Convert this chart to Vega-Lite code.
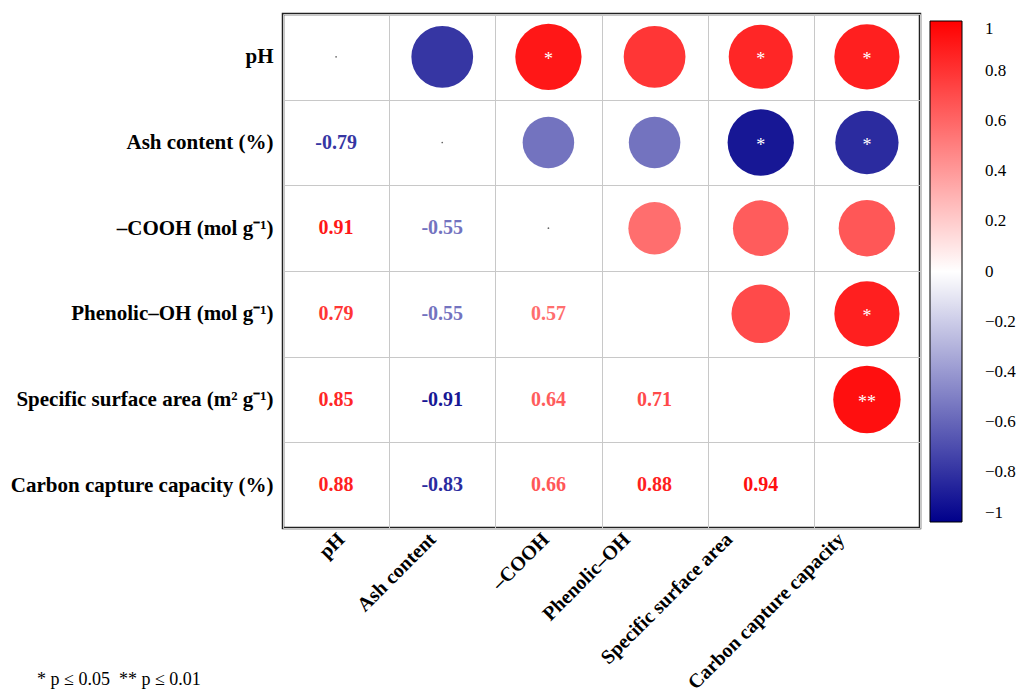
{
  "$schema": "https://vega.github.io/schema/vega-lite/v6.json",
  "autosize": "none",
  "padding": {"left": 283, "top": 14, "right": 100, "bottom": 164},
  "width": 637,
  "height": 514,
  "background": "white",
  "config": {
    "view": {"stroke": "#222222", "strokeWidth": 2.5},
    "font": "Liberation Serif"
  },
  "title": {
    "text": "* p ≤ 0.05  \u00a0** p ≤ 0.01",
    "orient": "bottom",
    "anchor": "start",
    "frame": "group",
    "font": "Liberation Serif",
    "fontSize": 18,
    "fontWeight": "normal",
    "color": "black",
    "dx": -246,
    "dy": -22,
    "offset": 0
  },
  "datasets": {
    "upper": [
      {"row": "pH", "col": "Ash content", "r": -0.79, "abs_r": 0.79, "sig": ""},
      {"row": "pH", "col": "–COOH", "r": 0.91, "abs_r": 0.91, "sig": "*"},
      {"row": "pH", "col": "Phenolic–OH", "r": 0.79, "abs_r": 0.79, "sig": ""},
      {"row": "pH", "col": "Specific surface area", "r": 0.85, "abs_r": 0.85, "sig": "*"},
      {"row": "pH", "col": "Carbon capture capacity", "r": 0.88, "abs_r": 0.88, "sig": "*"},
      {"row": "Ash content (%)", "col": "–COOH", "r": -0.55, "abs_r": 0.55, "sig": ""},
      {"row": "Ash content (%)", "col": "Phenolic–OH", "r": -0.55, "abs_r": 0.55, "sig": ""},
      {"row": "Ash content (%)", "col": "Specific surface area", "r": -0.91, "abs_r": 0.91, "sig": "*"},
      {"row": "Ash content (%)", "col": "Carbon capture capacity", "r": -0.83, "abs_r": 0.83, "sig": "*"},
      {"row": "–COOH (mol g⁻¹)", "col": "Phenolic–OH", "r": 0.57, "abs_r": 0.57, "sig": ""},
      {"row": "–COOH (mol g⁻¹)", "col": "Specific surface area", "r": 0.64, "abs_r": 0.64, "sig": ""},
      {"row": "–COOH (mol g⁻¹)", "col": "Carbon capture capacity", "r": 0.66, "abs_r": 0.66, "sig": ""},
      {"row": "Phenolic–OH (mol g⁻¹)", "col": "Specific surface area", "r": 0.71, "abs_r": 0.71, "sig": ""},
      {"row": "Phenolic–OH (mol g⁻¹)", "col": "Carbon capture capacity", "r": 0.88, "abs_r": 0.88, "sig": "*"},
      {"row": "Specific surface area (m² g⁻¹)", "col": "Carbon capture capacity", "r": 0.94, "abs_r": 0.94, "sig": "**"}
    ],
    "lower": [
      {"row": "Ash content (%)", "col": "pH", "r": -0.79, "label": "-0.79"},
      {"row": "–COOH (mol g⁻¹)", "col": "pH", "r": 0.91, "label": "0.91"},
      {"row": "Phenolic–OH (mol g⁻¹)", "col": "pH", "r": 0.79, "label": "0.79"},
      {"row": "Specific surface area (m² g⁻¹)", "col": "pH", "r": 0.85, "label": "0.85"},
      {"row": "Carbon capture capacity (%)", "col": "pH", "r": 0.88, "label": "0.88"},
      {"row": "–COOH (mol g⁻¹)", "col": "Ash content", "r": -0.55, "label": "-0.55"},
      {"row": "Phenolic–OH (mol g⁻¹)", "col": "Ash content", "r": -0.55, "label": "-0.55"},
      {"row": "Specific surface area (m² g⁻¹)", "col": "Ash content", "r": -0.91, "label": "-0.91"},
      {"row": "Carbon capture capacity (%)", "col": "Ash content", "r": -0.83, "label": "-0.83"},
      {"row": "Phenolic–OH (mol g⁻¹)", "col": "–COOH", "r": 0.57, "label": "0.57"},
      {"row": "Specific surface area (m² g⁻¹)", "col": "–COOH", "r": 0.64, "label": "0.64"},
      {"row": "Carbon capture capacity (%)", "col": "–COOH", "r": 0.66, "label": "0.66"},
      {"row": "Specific surface area (m² g⁻¹)", "col": "Phenolic–OH", "r": 0.71, "label": "0.71"},
      {"row": "Carbon capture capacity (%)", "col": "Phenolic–OH", "r": 0.88, "label": "0.88"},
      {"row": "Carbon capture capacity (%)", "col": "Specific surface area", "r": 0.94, "label": "0.94"}
    ],
    "diag": [
      {"row": "pH", "col": "pH"},
      {"row": "Ash content (%)", "col": "Ash content"},
      {"row": "–COOH (mol g⁻¹)", "col": "–COOH"}
    ]
  },
  "encoding": {
    "x": {
      "field": "col",
      "type": "nominal",
      "scale": {
        "domain": ["pH", "Ash content", "–COOH", "Phenolic–OH", "Specific surface area", "Carbon capture capacity"],
        "paddingInner": 0,
        "paddingOuter": 0
      },
      "axis": {
        "orient": "bottom",
        "title": null,
        "domain": false,
        "ticks": false,
        "grid": true,
        "tickBand": "extent",
        "gridColor": "#c8c8c8",
        "gridWidth": 1,
        "labelAngle": -45,
        "labelAlign": "right",
        "labelBaseline": "middle",
        "labelPadding": 8,
        "labelFont": "Liberation Serif",
        "labelFontWeight": "bold",
        "labelFontSize": 20,
        "labelColor": "black",
        "labelOverlap": false,
        "labelLimit": 400,
        "labelOffset": {
          "condition": [
            {"test": "datum.value === 'pH'", "value": 5},
            {"test": "datum.value === 'Ash content'", "value": -10},
            {"test": "datum.value === '–COOH'", "value": -3},
            {"test": "datum.value === 'Phenolic–OH'", "value": -28},
            {"test": "datum.value === 'Specific surface area'", "value": -32}
          ],
          "value": -26
        }
      }
    },
    "y": {
      "field": "row",
      "type": "nominal",
      "scale": {
        "domain": ["pH", "Ash content (%)", "–COOH (mol g⁻¹)", "Phenolic–OH (mol g⁻¹)", "Specific surface area (m² g⁻¹)", "Carbon capture capacity (%)"],
        "paddingInner": 0,
        "paddingOuter": 0
      },
      "axis": {
        "title": null,
        "domain": false,
        "ticks": false,
        "grid": true,
        "tickBand": "extent",
        "gridColor": "#c8c8c8",
        "gridWidth": 1,
        "labelPadding": 10,
        "labelFont": "Liberation Serif",
        "labelFontWeight": "bold",
        "labelFontSize": 21,
        "labelColor": "black",
        "labelLimit": 400
      }
    }
  },
  "layer": [
    {
      "data": {"name": "upper"},
      "mark": {"type": "circle", "opacity": 1},
      "encoding": {
        "size": {
          "field": "abs_r",
          "type": "quantitative",
          "scale": {"domain": [0, 1], "range": [0, 4830], "zero": true},
          "legend": null
        },
        "color": {
          "field": "r",
          "type": "quantitative",
          "scale": {"domain": [-1, 0, 1], "range": ["#00008B", "#ffffff", "#ff0000"], "interpolate": "rgb"},
          "legend": {
            "orient": "none",
            "legendX": 647,
            "legendY": 7,
            "direction": "vertical",
            "title": null,
            "gradientLength": 501,
            "gradientThickness": 32,
            "gradientStrokeColor": "black",
            "gradientStrokeWidth": 1,
            "values": [-1, -0.8, -0.6, -0.4, -0.2, 0, 0.2, 0.4, 0.6, 0.8, 1],
            "format": "~g",
            "labelFont": "Liberation Serif",
            "labelFontSize": 17,
            "labelColor": "black",
            "labelOffset": 23,
            "labelBaseline": "middle",
            "labelOverlap": false
          }
        }
      }
    },
    {
      "data": {"name": "upper"},
      "mark": {"type": "text", "color": "white", "fontSize": 18, "font": "Liberation Serif", "baseline": "middle", "dy": 3},
      "encoding": {"text": {"field": "sig"}}
    },
    {
      "data": {"name": "lower"},
      "mark": {"type": "text", "fontSize": 20, "fontWeight": "bold", "font": "Liberation Serif", "baseline": "middle"},
      "encoding": {
        "text": {"field": "label"},
        "color": {"field": "r", "type": "quantitative", "legend": null}
      }
    },
    {
      "data": {"name": "diag"},
      "mark": {"type": "circle", "size": 3, "color": "#666666", "opacity": 1},
      "encoding": {}
    }
  ]
}
